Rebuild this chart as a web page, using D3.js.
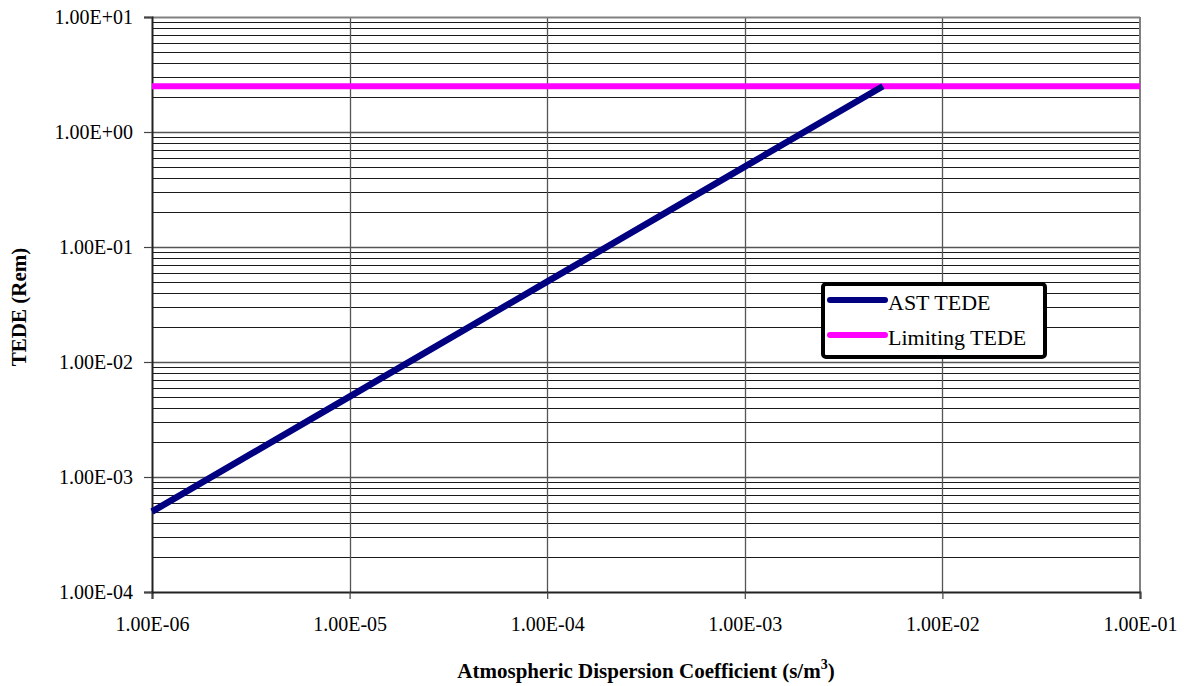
<!DOCTYPE html>
<html>
<head>
<meta charset="utf-8">
<script src="https://cdn.jsdelivr.net/npm/d3@7/dist/d3.min.js"></script>
<style>
  html, body { margin: 0; padding: 0; background: #fff; }
  svg { display: block; }
</style>
</head>
<body>
<svg id="chart" width="1188" height="686"></svg>
<script>
// Atmospheric dispersion coefficient (s/m^3)
const dispersion = [1e-6, 1e-5, 1e-4, 1e-3, 5e-3];
// AST TEDE (Rem)
const astTede = [5e-4, 5e-3, 5e-2, 5e-1, 2.5];
// Limiting TEDE (Rem)
const limitX = [1e-6, 1e-1];
const limitTede = [2.5, 2.5];

const xTicks = [1e-6, 1e-5, 1e-4, 1e-3, 1e-2, 1e-1];
const xTickLabels = ["1.00E-06", "1.00E-05", "1.00E-04", "1.00E-03", "1.00E-02", "1.00E-01"];
const yTicks = [1e-4, 1e-3, 1e-2, 1e-1, 1e0, 1e1];
const yTickLabels = ["1.00E-04", "1.00E-03", "1.00E-02", "1.00E-01", "1.00E+00", "1.00E+01"];

const seriesNames = ["AST TEDE", "Limiting TEDE"];
const seriesColors = ["#000080", "#ff00ff"];

const serif = "'Liberation Serif', 'Times New Roman', serif";
const svg = d3.select("#chart");
const plotLeft = 152, plotRight = 1140, plotTop = 17, plotBottom = 592;

const x = d3.scaleLog().domain([1e-6, 1e-1]).range([plotLeft, plotRight]);
const y = d3.scaleLog().domain([1e-4, 1e1]).range([plotBottom, plotTop]);

// Minor horizontal gridlines (2..9 within each decade)
const minorY = [];
for (let e = -4; e < 1; e++) {
  for (let m = 2; m <= 9; m++) minorY.push(m * Math.pow(10, e));
}
svg.append("g").selectAll("line").data(minorY).join("line")
  .attr("x1", plotLeft).attr("x2", plotRight)
  .attr("y1", d => Math.round(y(d)) + 0.5).attr("y2", d => Math.round(y(d)) + 0.5)
  .attr("stroke", "#1a1a1a").attr("stroke-width", 1);

// Decade gridlines
svg.append("g").selectAll("line").data(yTicks.slice(1, -1)).join("line")
  .attr("x1", plotLeft).attr("x2", plotRight)
  .attr("y1", d => Math.round(y(d)) + 0.5).attr("y2", d => Math.round(y(d)) + 0.5)
  .attr("stroke", "#555").attr("stroke-width", 1.3);

svg.append("g").selectAll("line").data(xTicks.slice(1, -1)).join("line")
  .attr("y1", plotTop).attr("y2", plotBottom)
  .attr("x1", d => Math.round(x(d)) + 0.5).attr("x2", d => Math.round(x(d)) + 0.5)
  .attr("stroke", "#555").attr("stroke-width", 1.3);

// Plot frame: grey top/right edges
svg.append("line").attr("x1", plotLeft).attr("x2", plotRight).attr("y1", plotTop + 0.5).attr("y2", plotTop + 0.5)
  .attr("stroke", "#808080").attr("stroke-width", 2);
svg.append("line").attr("x1", plotRight).attr("x2", plotRight).attr("y1", plotTop).attr("y2", plotBottom)
  .attr("stroke", "#808080").attr("stroke-width", 2);

// Axes
const xAxis = d3.axisBottom(x).tickValues(xTicks)
  .tickFormat((d, i) => xTickLabels[i]).tickSize(7).tickPadding(18);
const gx = svg.append("g").attr("transform", `translate(0,${plotBottom})`).call(xAxis);
gx.select(".domain").attr("stroke", "#222").attr("stroke-width", 2);
gx.selectAll(".tick line").attr("stroke", "#444").attr("stroke-width", 1.2);
gx.selectAll("text").style("font-size", "20px").style("font-family", serif).attr("fill", "#000");

const yAxis = d3.axisLeft(y).tickValues(yTicks)
  .tickFormat((d, i) => yTickLabels[i]).tickSize(8).tickPadding(11);
const gy = svg.append("g").attr("transform", `translate(${plotLeft},0)`).call(yAxis);
gy.select(".domain").attr("stroke", "#222").attr("stroke-width", 2);
gy.selectAll(".tick line").attr("stroke", "#444").attr("stroke-width", 1.2);
gy.selectAll("text").style("font-size", "20px").style("font-family", serif).attr("fill", "#000");

// Series
const line = d3.line().x(d => x(d[0])).y(d => y(d[1]));
svg.append("path")
  .datum(limitX.map((v, i) => [v, limitTede[i]]))
  .attr("d", line).attr("fill", "none")
  .attr("stroke", seriesColors[1]).attr("stroke-width", 6);
svg.append("path")
  .datum(dispersion.map((v, i) => [v, astTede[i]]))
  .attr("d", line).attr("fill", "none")
  .attr("stroke", seriesColors[0]).attr("stroke-width", 6.5);

// Axis titles
svg.append("text")
  .attr("x", 646).attr("y", 678)
  .attr("text-anchor", "middle")
  .style("font-size", "21px").style("font-weight", "bold").style("font-family", serif)
  .call(t => {
    t.append("tspan").text("Atmospheric Dispersion Coefficient (s/m");
    t.append("tspan").attr("dy", -9).style("font-size", "14px").text("3");
    t.append("tspan").attr("dy", 9).text(")");
  });

svg.append("text")
  .attr("transform", "translate(26,307) rotate(-90)")
  .attr("text-anchor", "middle")
  .style("font-size", "21px").style("font-weight", "bold").style("font-family", serif)
  .text("TEDE (Rem)");

// Legend
const lg = svg.append("g").attr("transform", "translate(823,284)");
lg.append("rect").attr("width", 222).attr("height", 73).attr("rx", 3)
  .attr("fill", "#fff").attr("stroke", "#000").attr("stroke-width", 4);
seriesNames.forEach((name, i) => {
  const yy = 16 + i * 35;
  lg.append("line").attr("x1", 7).attr("x2", 62).attr("y1", yy).attr("y2", yy)
    .attr("stroke", seriesColors[i]).attr("stroke-width", 6).attr("stroke-linecap", "round");
  lg.append("text").attr("x", 65).attr("y", yy + 10)
    .style("font-size", "22px").style("font-family", serif).attr("fill", "#000").text(name);
});
</script>
</body>
</html>
